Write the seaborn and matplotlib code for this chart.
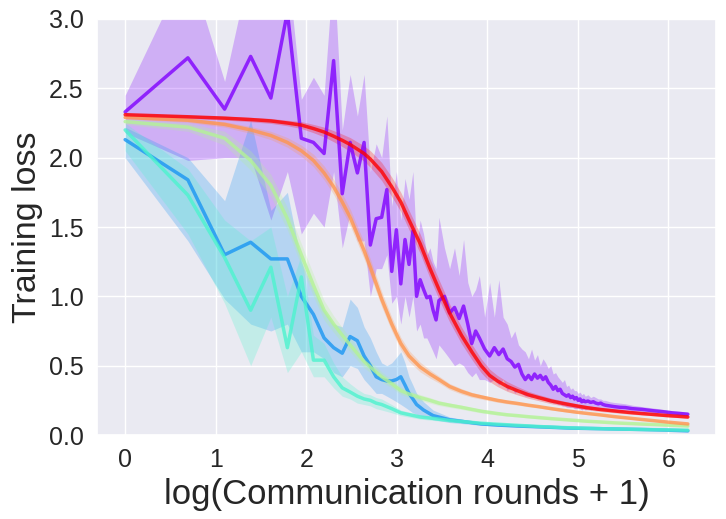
import numpy as np
import pandas as pd
import matplotlib
matplotlib.use("Agg")
import matplotlib.pyplot as plt
import seaborn as sns

# ---- data (rounds -> training loss) ----
purple_rounds = [0, 1, 2, 3, 4, 5, 6, 7, 8, 9, 10, 11, 12, 13, 14, 15, 16, 17, 18, 19,
                 20, 21, 22, 23, 24, 25, 26, 27, 28, 29, 30, 31, 33, 35, 37, 39, 41, 43,
                 45, 47, 49, 52, 55, 58, 61, 64, 67, 70, 73, 76, 79, 82, 85, 88, 91, 94,
                 97, 100, 103, 106, 109, 112, 115, 118, 121, 124, 127, 130, 133, 136,
                 139, 142, 145, 148, 151, 154, 157, 160, 165, 170, 175, 180, 185, 190,
                 195, 200, 210, 220, 235, 250, 270, 300, 340, 380, 420, 460, 499]
purple_loss = [2.33, 2.72, 2.35, 2.73, 2.43, 3.05, 2.14, 2.11, 2.03, 2.70, 1.74, 2.11, 1.89,
               2.11, 1.37, 1.56, 1.57, 1.77, 1.18, 1.48, 1.09, 1.41, 1.23, 1.47, 1.00, 1.12,
               1.05, 0.99, 1.00, 0.90, 0.83, 0.97, 1.00, 0.88, 0.92, 0.84, 0.93, 0.80, 0.66,
               0.75, 0.70, 0.62, 0.57, 0.63, 0.58, 0.62, 0.55, 0.53, 0.49, 0.51, 0.44, 0.40,
               0.43, 0.40, 0.44, 0.41, 0.43, 0.40, 0.42, 0.38, 0.36, 0.33, 0.35, 0.32, 0.33,
               0.30, 0.29, 0.28, 0.29, 0.27, 0.28, 0.26, 0.27, 0.25, 0.26, 0.24, 0.25, 0.24,
               0.245, 0.235, 0.24, 0.23, 0.225, 0.23, 0.22, 0.215, 0.21, 0.205, 0.20, 0.198,
               0.19, 0.185, 0.175, 0.168, 0.16, 0.155, 0.15]
purple_lo = [2.18, 1.98, 2.00, 2.00, 1.55, 1.90, 1.45, 1.60, 1.50, 1.90, 1.35, 1.60, 1.40,
             1.40, 1.00, 1.20, 1.20, 1.30, 0.95, 1.00, 0.80, 1.00, 0.85, 1.00, 0.75, 0.80,
             0.70, 0.70, 0.65, 0.60, 0.55, 0.65, 0.60, 0.55, 0.50, 0.52, 0.50, 0.45, 0.42,
             0.45, 0.40, 0.40, 0.38, 0.40, 0.36, 0.40, 0.32, 0.35, 0.30, 0.33, 0.30, 0.28,
             0.28, 0.27, 0.28, 0.26, 0.27, 0.26, 0.25, 0.24, 0.24, 0.23, 0.23, 0.22, 0.22,
             0.21, 0.21, 0.20, 0.20, 0.20, 0.20, 0.19, 0.19, 0.19, 0.19, 0.18, 0.19, 0.18,
             0.19, 0.18, 0.19, 0.18, 0.18, 0.185, 0.18, 0.18, 0.175, 0.17, 0.17, 0.17,
             0.165, 0.16, 0.155, 0.15, 0.145, 0.14, 0.135]
purple_hi = [2.45, 3.40, 2.55, 3.40, 3.30, 3.40, 2.42, 2.58, 2.45, 3.40, 2.20, 2.60, 2.30,
             2.60, 1.90, 2.10, 2.00, 2.30, 1.65, 1.90, 1.55, 1.85, 1.70, 1.90, 1.35, 1.55,
             1.45, 1.30, 1.35, 1.25, 1.20, 1.57, 1.35, 1.20, 1.35, 1.15, 1.41, 1.10, 1.00,
             1.05, 1.15, 0.85, 1.10, 0.85, 1.12, 0.85, 0.80, 0.70, 0.75, 0.65, 0.62, 0.60,
             0.55, 0.62, 0.54, 0.58, 0.50, 0.55, 0.52, 0.48, 0.50, 0.44, 0.45, 0.42, 0.40,
             0.38, 0.40, 0.35, 0.36, 0.33, 0.34, 0.32, 0.32, 0.30, 0.31, 0.29, 0.30, 0.28,
             0.29, 0.27, 0.28, 0.27, 0.26, 0.26, 0.25, 0.25, 0.24, 0.235, 0.23, 0.225,
             0.215, 0.205, 0.195, 0.185, 0.175, 0.17, 0.165]

blue_rounds = [0, 1, 2, 3, 4, 5, 6, 7, 8, 9, 10, 11, 12, 13, 14, 15, 16, 17, 18, 19, 20,
               21, 22, 23, 24, 26, 29, 35, 42, 50, 60, 75, 100, 135, 200, 300, 400, 499]
blue_loss = [2.13, 1.84, 1.30, 1.39, 1.27, 1.27, 1.00, 0.87, 0.70, 0.63, 0.59, 0.71, 0.68,
             0.57, 0.50, 0.42, 0.40, 0.39, 0.39, 0.40, 0.42, 0.36, 0.30, 0.26, 0.22, 0.18,
             0.14, 0.11, 0.095, 0.08, 0.072, 0.065, 0.058, 0.05, 0.045, 0.04, 0.035, 0.03]
blue_lo = [2.00, 1.40, 0.98, 0.80, 0.75, 0.80, 0.60, 0.60, 0.55, 0.45, 0.42, 0.50, 0.48,
           0.40, 0.35, 0.30, 0.30, 0.28, 0.26, 0.24, 0.22, 0.20, 0.18, 0.16, 0.15, 0.13,
           0.11, 0.09, 0.08, 0.07, 0.064, 0.058, 0.051, 0.044, 0.039, 0.035, 0.031, 0.027]
blue_hi = [2.22, 2.00, 1.69, 2.27, 1.62, 1.75, 1.25, 1.05, 0.90, 0.80, 0.78, 0.98, 0.92,
           0.78, 0.70, 0.60, 0.52, 0.50, 0.52, 0.56, 0.60, 0.52, 0.42, 0.36, 0.30, 0.24,
           0.18, 0.13, 0.11, 0.09, 0.08, 0.072, 0.065, 0.056, 0.051, 0.045, 0.039, 0.033]

cyan_rounds = [0, 1, 2, 3, 4, 5, 6, 7, 8, 9, 10, 11, 12, 13, 14, 15, 16, 18, 20, 25, 29,
               35, 42, 50, 60, 75, 100, 135, 200, 300, 400, 499]
cyan_loss = [2.20, 1.73, 1.28, 0.90, 1.21, 0.63, 1.14, 0.54, 0.54, 0.42, 0.34, 0.31, 0.28,
             0.26, 0.25, 0.23, 0.22, 0.19, 0.16, 0.13, 0.12, 0.105, 0.095, 0.085, 0.078,
             0.07, 0.06, 0.052, 0.045, 0.04, 0.037, 0.035]
cyan_lo = [2.05, 1.45, 0.95, 0.50, 0.85, 0.45, 0.60, 0.42, 0.42, 0.34, 0.28, 0.26, 0.23,
           0.22, 0.21, 0.19, 0.18, 0.16, 0.14, 0.115, 0.105, 0.095, 0.086, 0.077, 0.07,
           0.063, 0.054, 0.047, 0.041, 0.036, 0.034, 0.032]
cyan_hi = [2.25, 1.92, 1.55, 1.40, 1.50, 1.00, 1.30, 0.72, 0.66, 0.52, 0.42, 0.37, 0.33,
           0.30, 0.29, 0.27, 0.26, 0.22, 0.18, 0.145, 0.135, 0.115, 0.104, 0.093, 0.086,
           0.077, 0.066, 0.057, 0.049, 0.044, 0.04, 0.038]

smooth_rounds = [0, 1, 2, 3, 4, 5, 6, 7, 8, 9, 10, 11, 13, 14, 16, 18, 20, 22, 25, 28, 31,
                 35, 40, 45, 50, 55, 60, 67, 75, 85, 95, 110, 125, 145, 165, 190, 220,
                 260, 300, 350, 400, 450, 499]
green_loss = [2.26, 2.22, 2.14, 1.98, 1.80, 1.56, 1.30, 1.08, 0.90, 0.80, 0.72, 0.65, 0.53,
              0.49, 0.42, 0.37, 0.32, 0.295, 0.27, 0.25, 0.23, 0.215, 0.20, 0.185, 0.172,
              0.163, 0.155, 0.146, 0.14, 0.132, 0.126, 0.118, 0.112, 0.105, 0.099, 0.094,
              0.088, 0.083, 0.079, 0.075, 0.071, 0.068, 0.065]
green_spread = [0.02, 0.03, 0.05, 0.07, 0.08, 0.08, 0.08, 0.08, 0.07, 0.06, 0.055, 0.05,
                0.045, 0.04, 0.035, 0.03, 0.028, 0.025, 0.022, 0.02, 0.018, 0.016, 0.015,
                0.014, 0.013, 0.012, 0.011, 0.01, 0.01, 0.009, 0.009, 0.008, 0.008, 0.007,
                0.007, 0.007, 0.006, 0.006, 0.006, 0.005, 0.005, 0.005, 0.005]
orange_loss = [2.29, 2.27, 2.24, 2.20, 2.16, 2.11, 2.05, 1.98, 1.89, 1.79, 1.68, 1.57, 1.33,
               1.21, 0.98, 0.80, 0.66, 0.57, 0.49, 0.44, 0.40, 0.35, 0.315, 0.29, 0.275,
               0.262, 0.25, 0.238, 0.228, 0.215, 0.205, 0.19, 0.178, 0.165, 0.155, 0.145,
               0.133, 0.122, 0.112, 0.102, 0.093, 0.086, 0.08]
orange_spread = [0.01, 0.015, 0.02, 0.025, 0.03, 0.035, 0.04, 0.045, 0.05, 0.055, 0.06,
                 0.06, 0.06, 0.06, 0.055, 0.05, 0.045, 0.04, 0.035, 0.03, 0.025, 0.022,
                 0.02, 0.018, 0.016, 0.015, 0.014, 0.013, 0.012, 0.011, 0.01, 0.01, 0.009,
                 0.009, 0.008, 0.008, 0.007, 0.007, 0.006, 0.006, 0.006, 0.005, 0.005]
red_loss = [2.31, 2.295, 2.285, 2.275, 2.265, 2.25, 2.235, 2.21, 2.185, 2.155, 2.125,
            2.095, 2.03, 1.99, 1.90, 1.79, 1.68, 1.55, 1.38, 1.20, 1.05, 0.88, 0.72, 0.60,
            0.50, 0.43, 0.39, 0.35, 0.32, 0.29, 0.27, 0.245, 0.228, 0.21, 0.196, 0.184,
            0.174, 0.163, 0.155, 0.147, 0.14, 0.135, 0.13]
red_spread = [0.01, 0.012, 0.014, 0.016, 0.018, 0.02, 0.025, 0.03, 0.035, 0.04, 0.045,
              0.05, 0.055, 0.06, 0.065, 0.07, 0.07, 0.07, 0.07, 0.07, 0.07, 0.065, 0.06,
              0.055, 0.05, 0.045, 0.04, 0.035, 0.03, 0.025, 0.022, 0.02, 0.018, 0.016,
              0.015, 0.014, 0.013, 0.012, 0.011, 0.01, 0.01, 0.01, 0.01]

run_names = ["purple", "blue", "cyan", "green", "orange", "red"]

# ---- build long table ----
series = {
    "purple": (purple_rounds, purple_loss, purple_lo, purple_hi),
    "blue": (blue_rounds, blue_loss, blue_lo, blue_hi),
    "cyan": (cyan_rounds, cyan_loss, cyan_lo, cyan_hi),
    "green": (smooth_rounds, green_loss,
              np.subtract(green_loss, green_spread), np.add(green_loss, green_spread)),
    "orange": (smooth_rounds, orange_loss,
               np.subtract(orange_loss, orange_spread), np.add(orange_loss, orange_spread)),
    "red": (smooth_rounds, red_loss,
            np.subtract(red_loss, red_spread), np.add(red_loss, red_spread)),
}

frames = []
for name in run_names:
    r, loss, lo, hi = series[name]
    frames.append(pd.DataFrame({
        "x": np.log(np.asarray(r) + 1.0),
        "loss": loss, "lo": lo, "hi": hi, "run": name,
    }))
df = pd.concat(frames, ignore_index=True)

colors = plt.cm.rainbow(np.linspace(0, 1, len(run_names)))
palette = {name: colors[i] for i, name in enumerate(run_names)}

# ---- style ----
sns.set_theme(style="darkgrid")
plt.rcParams['font.family'] = ['Liberation Sans', 'DejaVu Sans']

fig, ax = plt.subplots(figsize=(7.26, 5.19), dpi=100)
fig.subplots_adjust(left=0.1336, right=0.9862, bottom=0.1618, top=0.9634)

# bands first, then lines
for name in run_names:
    d = df[df["run"] == name]
    ax.fill_between(d["x"], d["lo"], d["hi"], color=palette[name], alpha=0.25, lw=0)

sns.lineplot(data=df, x="x", y="loss", hue="run", hue_order=run_names,
             palette=palette, errorbar=None, linewidth=2.5, alpha=0.8,
             legend=False, ax=ax)

ax.set_ylim(0, 3)
ax.set_xlabel("log(Communication rounds + 1)", fontsize=25)
ax.set_ylabel("Training loss", fontsize=24.5)
ax.tick_params(labelsize=18)

fig.savefig("out.png", dpi=100)
